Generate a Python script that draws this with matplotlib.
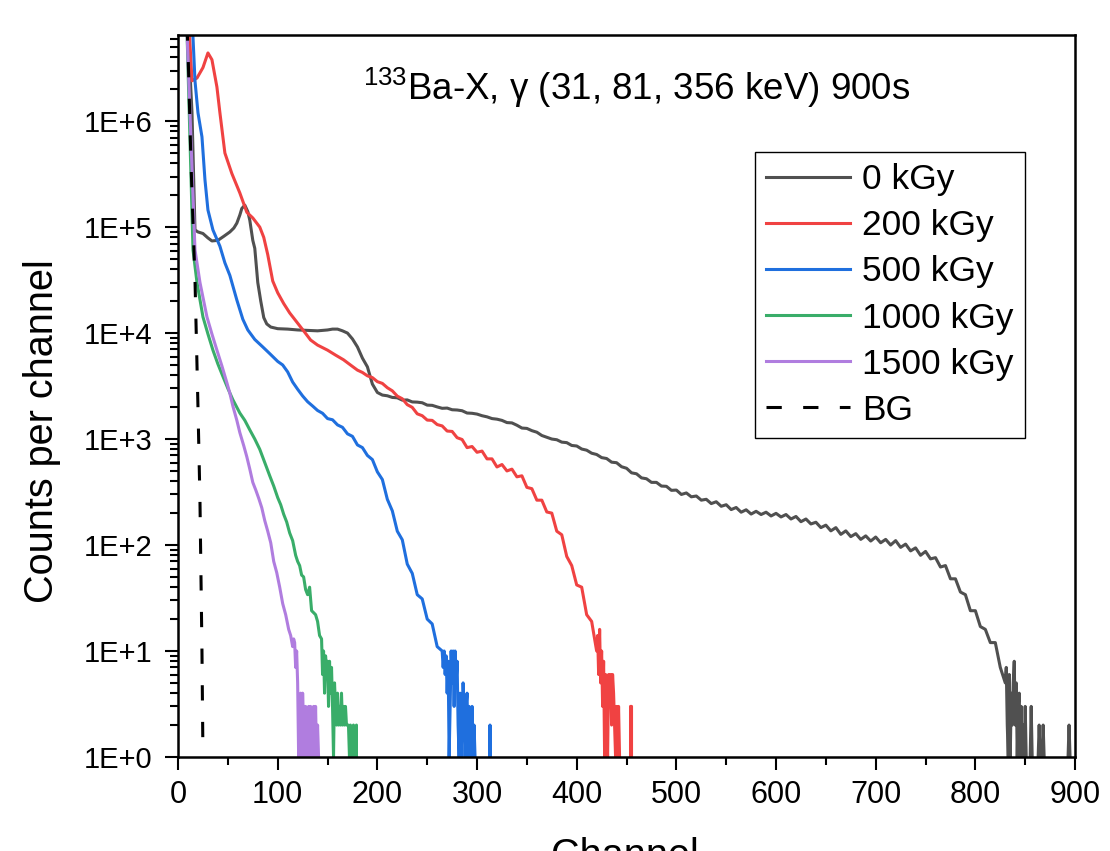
import numpy as np
import matplotlib
matplotlib.use("Agg")
import matplotlib.pyplot as plt
from matplotlib.ticker import MultipleLocator, LogLocator, FuncFormatter, NullFormatter

plt.rcParams['font.family'] = ['Liberation Sans', 'DejaVu Sans']
plt.rcParams['mathtext.default'] = 'regular'

# --- spectra (channel, counts per channel) ---
gray_ch = ([10, 14, 17, 20, 25, 30, 34, 40, 46, 52, 56, 59, 62, 64, 67, 70, 72, 75, 77, 80,
            83, 86, 89, 93, 100, 110, 120, 130, 140, 150, 155, 160, 165, 170, 175, 180, 185, 190, 195]
           + list(range(200, 830, 5)) + list(range(830, 901)))
gray_cnt = ([7e6, 1.2e6, 9.4e4, 9.0e4, 8.7e4, 7.9e4, 7.4e4, 7.5e4, 8.2e4, 9.0e4, 9.8e4, 1.09e5,
             1.30e5, 1.50e5, 1.61e5, 1.40e5, 1.16e5, 7.5e4, 6.3e4, 3.0e4,
             2.0e4, 1.4e4, 1.22e4, 1.14e4, 1.10e4, 1.09e4, 1.07e4, 1.06e4, 1.05e4, 1.07e4,
             1.09e4, 1.09e4, 1.05e4, 1.0e4, 8.8e3, 7.4e3, 5.8e3, 4.8e3, 3.3e3]
            + [2750, 2600, 2560, 2470, 2450, 2330, 2340, 2240, 2230, 2200,
               2090, 2080, 2010, 1950, 1960, 1890, 1880, 1850, 1760, 1750,
               1720, 1660, 1620, 1560, 1540, 1500, 1430, 1420, 1350, 1270,
               1260, 1200, 1160, 1080, 1040, 1000, 985, 935, 925, 870,
               860, 805, 785, 735, 715, 668, 655, 605, 598, 548,
               530, 480, 470, 430, 422, 390, 390, 360, 358, 328,
               330, 300, 310, 285, 290, 265, 270, 246, 256, 232,
               240, 216, 226, 204, 215, 196, 208, 194, 204, 188,
               199, 184, 194, 176, 186, 166, 176, 158, 164, 146,
               154, 136, 146, 126, 136, 120, 128, 113, 122, 109,
               119, 105, 113, 100, 110, 95, 102, 88, 94, 80,
               87, 74, 76, 62, 64, 48, 48, 36, 34, 24,
               24, 17, 16, 12, 12, 7]
            + [5, 7, 2, 1, 6, 1, 4, 2, 5, 8, 2, 5, 1, 3, 4, 1, 3, 1, 2, 1,
               3, 1, 0, 0, 0, 1, 3, 1, 0, 0, 0, 0, 0, 1, 2, 1, 0, 1, 2, 1, 0]
            + [0] * 22 + [1, 2, 1] + [0] * 5)

red_ch = ([11, 14, 19, 25, 30, 34, 39, 42, 47, 54, 62, 69, 75, 82, 86, 90, 95, 100, 106, 112,
           120, 127, 133, 140, 150, 158, 166, 173]
          + list(range(180, 421, 5)) + list(range(421, 461)))
red_cnt = ([8e6, 2.4e6, 2.55e6, 3.2e6, 4.4e6, 3.8e6, 2.1e6, 1.2e6, 5.0e5, 3.2e5, 2.1e5, 1.38e5,
            1.22e5, 1.0e5, 8.0e4, 5.5e4, 3.1e4, 2.4e4, 1.9e4, 1.55e4,
            1.24e4, 1.02e4, 8.6e3, 7.7e3, 6.9e3, 6.2e3, 5.6e3, 5.0e3]
           + [4470, 4250, 3950, 3800, 3480, 3350, 3050, 2850, 2540, 2400,
              2110, 1990, 1730, 1660, 1510, 1500, 1370, 1330, 1190, 1180,
              1030, 990, 830, 850, 750, 770, 650, 650, 545, 575,
              500, 520, 440, 450, 350, 340, 265, 265, 205, 200,
              135, 125, 78, 64, 42, 40, 22, 19, 10]
           + [14, 6, 16, 5, 10, 3, 8, 1, 6, 2, 1, 6, 3, 6, 2, 6, 4, 2, 1, 3,
              1, 3, 1, 0, 0, 0, 0, 0, 0, 0, 0, 0, 0, 3, 3, 0, 0, 0, 0, 0])

blue_ch = ([13, 15, 17, 20, 24, 27, 30, 35, 42, 47, 52, 59, 65, 70, 77, 85, 92]
           + list(range(100, 266, 5)) + list(range(266, 321)))
blue_cnt = ([8e6, 6.2e6, 2.4e6, 1.2e6, 7.1e5, 2.8e5, 1.45e5, 9.4e4, 6.6e4, 4.6e4, 3.5e4,
             2.05e4, 1.35e4, 1.07e4, 8.7e3, 7.4e3, 6.4e3]
            + [5400, 5000, 4300, 3450, 2950, 2550, 2250, 2050, 1860, 1750,
               1560, 1520, 1360, 1290, 1120, 1060, 880, 830, 700, 640,
               490, 415, 270, 210, 135, 112, 66, 54, 34, 31,
               20, 18, 11, 10]
            + [7, 10, 6, 9, 4, 8, 1, 3, 10, 5, 10, 3, 10, 5, 8, 2, 1, 4, 1, 2,
               5, 3, 1, 3, 4, 1, 3, 2, 1, 3, 1, 2, 1, 0]
            + [0] * 13 + [2, 0] + [0] * 6)

green_ch = ([9, 15, 19, 25, 30, 35, 40, 45, 50, 55, 62, 67, 72, 77, 82, 87, 92, 96, 100, 103,
             106, 109, 112, 115, 118, 120, 122, 124, 126, 128, 130, 132, 134, 136, 138, 140, 142, 144]
            + list(range(145, 185)))
green_cnt = ([7e6, 6.1e4, 3.0e4, 1.42e4, 9.8e3, 6.9e3, 5.1e3, 3.9e3, 3.0e3, 2.35e3,
              1.76e3, 1.5e3, 1.22e3, 1.0e3, 800, 600, 450, 360, 280, 240,
              195, 165, 130, 110, 80, 70, 64, 52, 50, 38, 34, 40, 24, 23, 22, 19, 14, 13]
             + [6, 10, 4, 9, 7, 8, 3, 8, 4, 7, 3, 1, 5, 3, 2, 4, 2, 3, 2, 4,
                2, 3, 2, 3, 2, 2, 2, 1, 2, 1, 0, 2, 0, 0, 2, 0, 0, 0, 0, 0])

purple_ch = ([9, 17, 22, 29, 34, 39, 44, 49, 52, 55, 59, 62, 66, 69, 72, 75, 78, 81, 84, 87,
              90, 93, 96, 99, 102, 105, 108, 111, 113, 115]
             + list(range(116, 146)))
purple_cnt = ([7e6, 6.1e4, 3.0e4, 1.42e4, 9.8e3, 6.9e3, 4.9e3, 3.4e3, 2.7e3, 2.05e3,
               1.5e3, 1.15e3, 860, 680, 520, 390, 330, 275, 225, 170,
               135, 105, 70, 55, 40, 28, 22, 16, 14, 11]
              + [13, 12, 7, 10, 5, 1, 3, 4, 1, 4, 2, 1, 3, 1, 2, 3, 1, 3, 1, 2,
                 3, 1, 3, 1, 2, 1, 0, 0, 0, 0])

bg_ch = [9, 10, 13, 17, 20, 22, 24, 25]
bg_cnt = [8e6, 4.7e6, 4e5, 3.2e4, 2e3, 260, 10, 1]

series = [
    ("0 kGy", gray_ch, gray_cnt, "#505050"),
    ("200 kGy", red_ch, red_cnt, "#f04242"),
    ("500 kGy", blue_ch, blue_cnt, "#1f6fde"),
    ("1000 kGy", green_ch, green_cnt, "#39ad69"),
    ("1500 kGy", purple_ch, purple_cnt, "#b07ddf"),
]

fig = plt.figure(figsize=(11.1, 8.51), dpi=100)
ax = fig.add_axes([0.1604, 0.1105, 0.8081, 0.8484])
ax.set_yscale('log', nonpositive='clip')

for name, ch, cnt, col in series:
    ax.plot(ch, cnt, color=col, lw=2.2, label=name)
ax.plot(bg_ch, bg_cnt, color='black', lw=2.2, dashes=(5, 7), label='BG')

ax.set_xlim(0, 900)
ax.set_ylim(1, 6.5e6)

ax.xaxis.set_major_locator(MultipleLocator(100))
ax.xaxis.set_minor_locator(MultipleLocator(50))
ax.yaxis.set_major_locator(LogLocator(base=10, numticks=20))
ax.yaxis.set_minor_locator(LogLocator(base=10, subs=np.arange(2, 10), numticks=20))
ax.yaxis.set_minor_formatter(NullFormatter())
ax.yaxis.set_major_formatter(FuncFormatter(lambda v, p: f"1E+{int(round(np.log10(v)))}"))

ax.tick_params(which='major', direction='out', length=9.5, width=1.5)
ax.tick_params(which='minor', direction='out', length=6, width=1.5)
ax.tick_params(axis='x', which='major', pad=7, labelsize=22)
ax.tick_params(axis='y', which='major', pad=9, labelsize=21)
for s in ax.spines.values():
    s.set_linewidth(1.8)

ax.set_xlabel("Channel", fontsize=28.5)
ax.xaxis.set_label_coords(0.498, -0.1105)
ax.set_ylabel("Counts per channel", fontsize=28.5)
ax.yaxis.set_label_coords(-0.130, 0.4515)

ax.text(0.511, 0.927, r"$^{133}$Ba-X, γ (31, 81, 356 keV) 900s", fontsize=26.5,
        ha='center', va='center', transform=ax.transAxes)

leg = ax.legend(loc='upper right', bbox_to_anchor=(0.944, 0.838), borderaxespad=0,
                fontsize=25.5, handlelength=2.35, labelspacing=0.37, handletextpad=0.35,
                borderpad=0.32, fancybox=False, framealpha=1, edgecolor='black')
leg.get_frame().set_linewidth(1.0)

fig.savefig("out.png", dpi=100)
